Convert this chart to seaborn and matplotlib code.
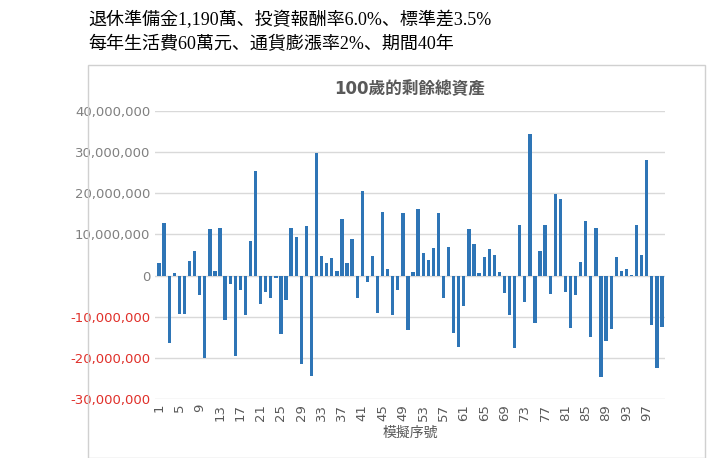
import matplotlib
matplotlib.use("Agg")
import matplotlib.pyplot as plt
import seaborn as sns
import pandas as pd
from matplotlib.patches import Rectangle
from matplotlib.ticker import FuncFormatter
from matplotlib import font_manager

sims = list(range(1, 101))
values_m = [3.0, 12.7, -16.3, 0.6, -9.3, -9.3, 3.6, 5.9, -4.8, -20.0,
            11.3, 1.2, 11.5, -10.9, -2.0, -19.5, -3.6, -9.5, 8.5, 25.3,
            -6.8, -4.0, -5.5, -0.6, -14.1, -5.9, 11.5, 9.3, -21.4, 12.1,
            -24.4, 29.7, 4.8, 3.0, 4.2, 1.2, 13.7, 3.1, 8.9, -5.5,
            20.6, -1.5, 4.7, -9.1, 15.5, 1.5, -9.7, -3.5, 15.2, -13.3,
            0.8, 16.3, 5.5, 3.8, 6.7, 15.3, -5.5, 6.9, -14.0, -17.3,
            -7.3, 11.3, 7.7, 0.6, 4.4, 6.4, 5.0, 0.8, -4.2, -9.5,
            -17.7, 12.4, -6.5, 34.3, -11.5, 5.9, 12.4, -4.4, 19.8, 18.7,
            -4.0, -12.7, -4.8, 3.4, 13.3, -14.9, 11.5, -24.7, -16.0, -12.9,
            4.4, 1.0, 1.6, 0.2, 12.3, 5.0, 28.2, -12.1, -22.4, -12.5]
values = [v * 1e6 for v in values_m]
title_lines = ["退休準備金1,190萬、投資報酬率6.0%、標準差3.5%",
               "每年生活費60萬元、通貨膨漲率2%、期間40年"]
chart_title = "100歲的剩餘總資產"
x_label = "模擬序號"

df = pd.DataFrame({"sim": [str(s) for s in sims], "value": values})

available = {f.name for f in font_manager.fontManager.ttflist}
cjk = [n for n in ["Noto Sans CJK TC", "Noto Sans CJK JP", "Noto Sans CJK SC",
                   "Noto Sans CJK KR"] if n in available]
plt.rcParams["font.family"] = ["DejaVu Sans"] + cjk
serif = ["Liberation Serif"] + cjk

fig = plt.figure(figsize=(7.2, 4.58), dpi=100)
fig.patches.append(Rectangle((88/720, 0), (705-88)/720, 1-65/458, transform=fig.transFigure,
                             fill=False, edgecolor="#d0d0d0", lw=1))
ax = fig.add_axes([155/720, 1-399/458, 510/720, 288/458])
sns.barplot(data=df, x="sim", y="value", color="#2e75b6", width=0.65, ax=ax,
            saturation=1, order=[str(s) for s in sims])
ax.set_ylim(-30e6, 40e6)
ax.set_yticks([i * 1e7 for i in range(-3, 5)])
ax.yaxis.set_major_formatter(FuncFormatter(lambda v, p: f"{v:,.0f}"))
for lab, t in zip(ax.get_yticklabels(), ax.get_yticks()):
    lab.set_color("#e0302a" if t < 0 else "#808080")
    lab.set_fontsize(9.5)
ax.grid(axis="y", color="#d9d9d9", lw=1)
ax.set_axisbelow(True)
for s in ax.spines.values():
    s.set_visible(False)
ax.tick_params(length=0)
ticks = [i for i in range(0, 100, 4)]
ax.set_xticks(ticks)
ax.set_xticklabels([str(sims[i]) for i in ticks], rotation=90, fontsize=9.5, color="#595959")
ax.set_xlim(-0.8, 99.6)
ax.set_xlabel(x_label, fontsize=10, color="#595959")
ax.set_ylabel("")
ax.set_title(chart_title, fontsize=12, fontweight="bold", color="#595959", pad=12)
fig.text(88/720, 1-20/458, title_lines[0], fontsize=13, va="center", color="black", family=serif)
fig.text(88/720, 1-45/458, title_lines[1], fontsize=13, va="center", color="black", family=serif)
fig.savefig("out.png", dpi=100)
